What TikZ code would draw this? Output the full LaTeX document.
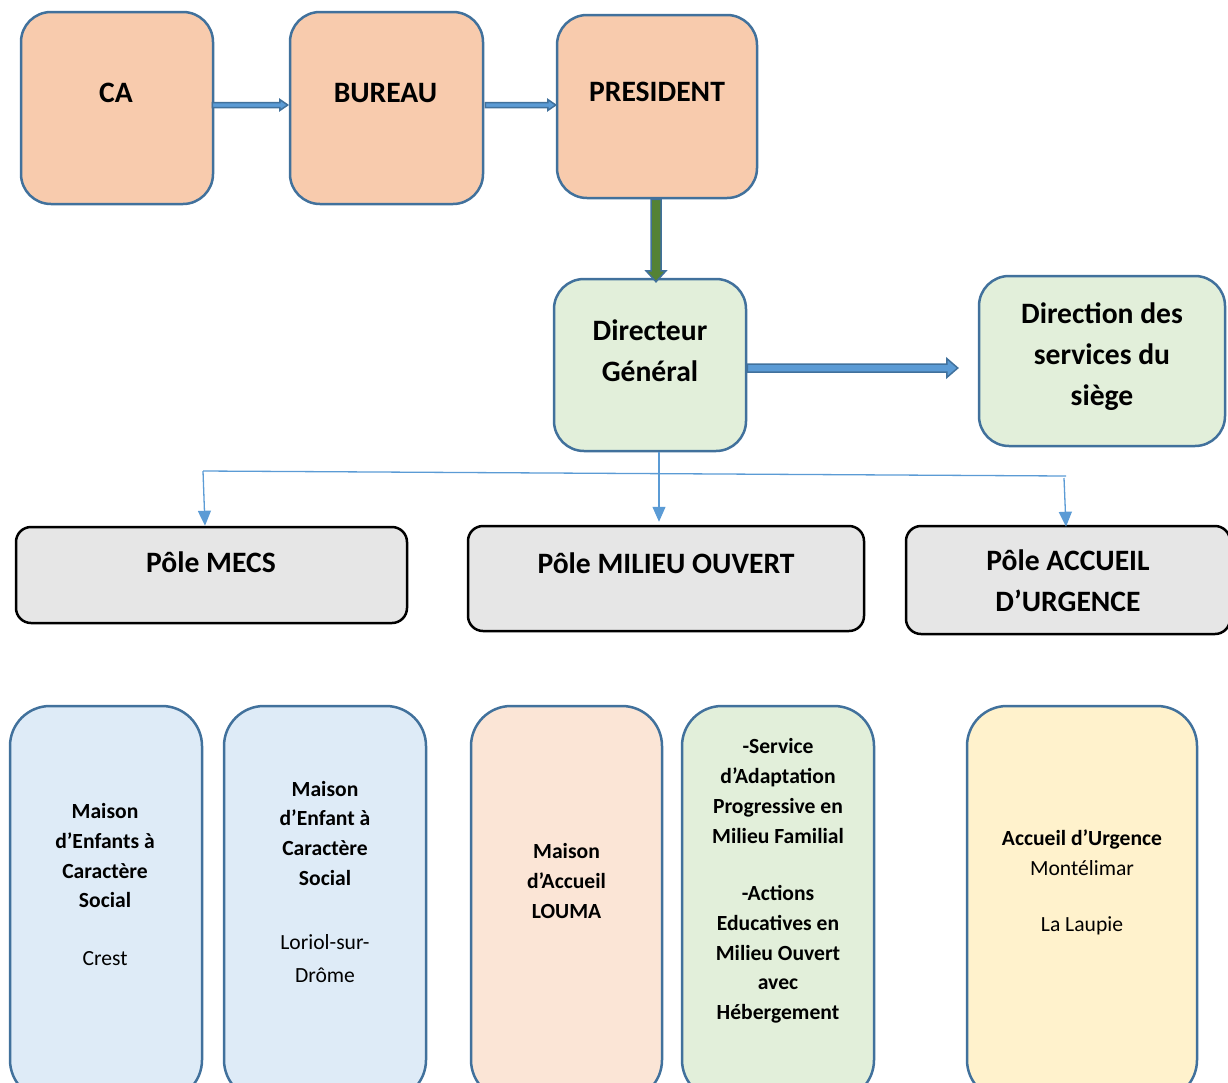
\documentclass[tikz,border=0pt]{standalone}
\usepackage{fontspec}
\setmainfont{Carlito}
\usetikzlibrary{calc,arrows.meta}
\definecolor{edge}{HTML}{41719C}
\definecolor{peach}{HTML}{F8CBAD}
\definecolor{lgreen}{HTML}{E2EFDA}
\definecolor{lgray}{HTML}{E6E6E6}
\definecolor{lblue}{HTML}{DEEBF7}
\definecolor{lpeach}{HTML}{FBE5D6}
\definecolor{lyellow}{HTML}{FFF2CC}
\definecolor{arrblue}{HTML}{5B9BD5}
\definecolor{arrgreen}{HTML}{548235}
\definecolor{thinblue}{HTML}{5B9BD5}
\newcommand{\harrow}[6]{%
  \filldraw[draw=edge, line width=1.5pt, fill=#6, line join=miter]
  ($(#1)+(0,#3)$) -- ($(#2)+(-#5,#3)$) -- ($(#2)+(-#5,#4)$) -- (#2) --
  ($(#2)+(-#5,-#4)$) -- ($(#2)+(-#5,-#3)$) -- ($(#1)+(0,-#3)$) -- cycle;}
\newcommand{\varrow}[6]{%
  \filldraw[draw=edge, line width=1.5pt, fill=#6, line join=miter]
  ($(#1)+(#3,0)$) -- ($(#2)+(#3,-#5)$) -- ($(#2)+(#4,-#5)$) -- (#2) --
  ($(#2)+(-#4,-#5)$) -- ($(#2)+(-#3,-#5)$) -- ($(#1)+(-#3,0)$) -- cycle;}
\begin{document}
\begin{tikzpicture}[x=1pt,y=-1pt,
  box/.style={draw=edge, line width=2.5pt, inner sep=0pt},
  topbox/.style={box, fill=peach, rounded corners=30pt},
  greenbox/.style={box, fill=lgreen, rounded corners=30pt},
  polebox/.style={draw=black, line width=2.5pt, fill=lgray, rounded corners=15pt, inner sep=0pt},
  lowbox/.style={box, rounded corners=40pt, minimum height=394pt},
  bigtxt/.style={font=\bfseries\fontsize{29.6}{41}\selectfont, align=center, inner sep=0pt},
  smalltxt/.style={font=\bfseries\fontsize{21.6}{29.7}\selectfont, align=center, inner sep=0pt},
  thin/.style={draw=thinblue, line width=1.3pt},
  thinarrow/.style={thin, -{Triangle[length=15pt,width=13pt]}}]
\useasboundingbox (0,0) rectangle (1228,1082);
\clip (0,0) rectangle (1228,1082);

% top boxes
\node[topbox, minimum width=192pt, minimum height=192pt] (CA) at (117,108) {};
\node[topbox, minimum width=193pt, minimum height=192pt] (BUR) at (386.5,108) {};
\node[topbox, minimum width=200pt, minimum height=183pt] (PRES) at (657,106.5) {};
\node[bigtxt] (tCA) at (116,93) {CA};
\node[bigtxt] (tBUR) at (385.5,93) {BUREAU};
\node[bigtxt] (tPRES) at (657,92) {PRESIDENT};

% director boxes
\node[greenbox, minimum width=192pt, minimum height=172pt] (DG) at (650,365) {};
\node[greenbox, minimum width=246pt, minimum height=170pt] (DIR) at (1102,361) {};
\node[bigtxt] (tDG) at (650,350.5) {Directeur\\Général};
\node[bigtxt] (tDIR) at (1102,357) {Direction des\\services du\\siège};

% poles
\node[polebox, minimum width=391pt, minimum height=96pt] (MECS) at (211.5,575) {};
\node[polebox, minimum width=396pt, minimum height=105pt] (MO) at (666,578.5) {};
\node[polebox, minimum width=324pt, minimum height=108pt] (AU) at (1068,580) {};
\node[bigtxt] (tMECS) at (211,562) {Pôle MECS};
\node[bigtxt] (tMO) at (666,563) {Pôle MILIEU OUVERT};
\node[bigtxt] (tAU) at (1068,581) {Pôle ACCUEIL\\D’URGENCE};

% lower boxes
\node[lowbox, fill=lblue, minimum width=192pt] (M1) at (106,903) {};
\node[lowbox, fill=lblue, minimum width=202pt] (M2) at (325,903) {};
\node[lowbox, fill=lpeach, minimum width=191pt] (LO) at (566.5,903) {};
\node[lowbox, fill=lgreen, minimum width=192pt] (SE) at (778,903) {};
\node[lowbox, fill=lyellow, minimum width=230pt] (AC) at (1082,903) {};

\node[smalltxt] (tM1) at (105,884.5) {Maison\\d’Enfants à\\Caractère\\Social\\[28pt]\mdseries Crest};
\node[smalltxt] (tM2) at (325,882) {Maison\\d’Enfant à\\Caractère\\Social\\[34pt]\mdseries Loriol-sur-\\[4pt]\mdseries Drôme};
\node[smalltxt] (tLO) at (566.5,881) {Maison\\d’Accueil\\LOUMA};
\node[smalltxt] (tSE) at (778,881) {-Service\\d’Adaptation\\Progressive en\\Milieu Familial\\[28pt]-Actions\\Educatives en\\Milieu Ouvert\\avec\\Hébergement};
\node[smalltxt] (tAC) at (1082,882.5) {Accueil d’Urgence\\\mdseries Montélimar\\[26pt]\mdseries La Laupie};

% block arrows
\coordinate (a1s) at ($(CA.east)+(-2,-3)$);
\coordinate (a1e) at ($(BUR.west)+(-1,-3)$);
\coordinate (a2s) at ($(BUR.east)+(1,-3)$);
\coordinate (a2e) at ($(PRES.west)+(0,-1.5)$);
\coordinate (a3s) at ($(PRES.south)+(-1,0)$);
\coordinate (a3e) at ($(DG.north)+(6,4)$);
\coordinate (a4s) at ($(DG.east)+(0,3)$);
\coordinate (a4e) at ($(DIR.west)+(-20,7)$);
\harrow{a1s}{a1e}{2.5}{5.5}{8}{arrblue}
\harrow{a2s}{a2e}{2.5}{5.5}{8}{arrblue}
\varrow{a3s}{a3e}{5}{10}{11}{arrgreen}
\harrow{a4s}{a4e}{4}{9.5}{11}{arrblue}

% thin connectors
\coordinate (jL) at (203,471);
\coordinate (jR) at (1066,476);
\coordinate (jR2) at (1064,478);
\coordinate (dgOut) at ($(DG.south)+(9,0)$);
\draw[thin] (jL) -- (jR);
\draw[thinarrow] (jL) -- ($(MECS.north)+(-6.5,0)$);
\draw[thinarrow] (dgOut) -- ($(MO.north)+(-7,-3)$);
\draw[thinarrow] (jR2) -- ($(AU.north)+(-2,2)$);
\end{tikzpicture}
\end{document}
